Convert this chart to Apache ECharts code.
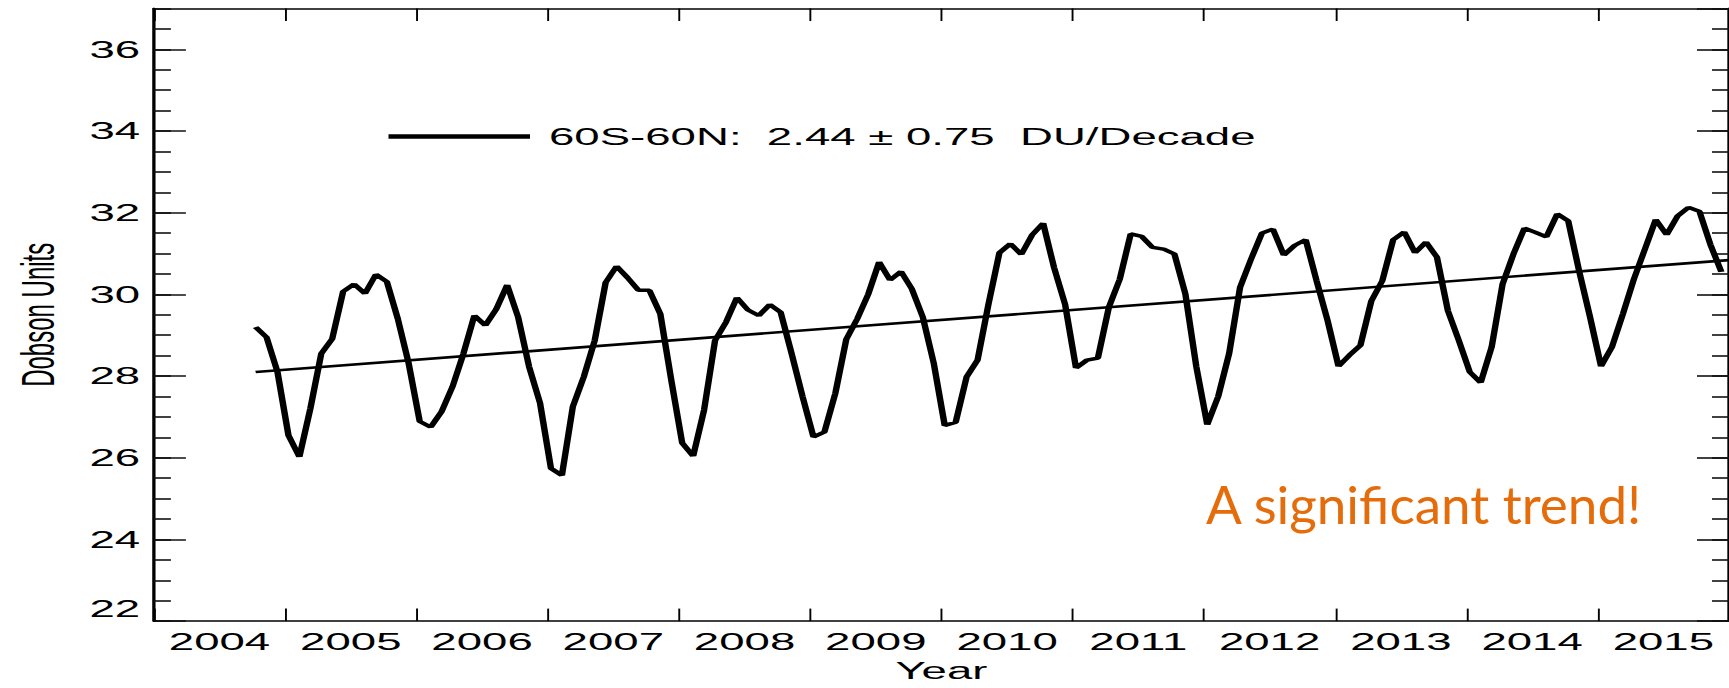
<!DOCTYPE html>
<html>
<head>
<meta charset="utf-8">
<script src="https://cdn.jsdelivr.net/npm/echarts@6/dist/echarts.min.js"></script>
<style>
  html, body { margin: 0; padding: 0; background: #fff; overflow: hidden; }
  #stage { position: relative; width: 1729px; height: 688px; overflow: hidden; }
  #chart { position: absolute; left: 0; top: 0; height: 688px; transform-origin: 0 0; }
</style>
</head>
<body>
<div id="stage"><div id="chart"></div></div>
<script>
// Monthly tropospheric column ozone, 60S-60N (Dobson Units), Oct 2004 - Dec 2015
const FIRST_YEAR = 2004;
const FIRST_MONTH = 10;
const du2004 = [29.20, 28.95, 28.10];
const du2005 = [26.55, 26.02, 27.20, 28.55, 28.91, 30.07, 30.25, 30.02, 30.49, 30.31, 29.40, 28.30];
const du2006 = [26.89, 26.75, 27.13, 27.74, 28.55, 29.48, 29.24, 29.64, 30.23, 29.44, 28.23, 27.34];
const du2007 = [25.74, 25.57, 27.25, 27.98, 28.87, 30.29, 30.69, 30.41, 30.10, 30.10, 29.52, 27.90];
const du2008 = [26.36, 26.04, 27.17, 28.87, 29.32, 29.92, 29.62, 29.48, 29.75, 29.56, 28.55, 27.50];
const du2009 = [26.51, 26.63, 27.58, 28.90, 29.40, 30.00, 30.79, 30.35, 30.56, 30.13, 29.44, 28.31];
const du2010 = [26.79, 26.87, 27.98, 28.39, 29.76, 31.02, 31.24, 30.98, 31.46, 31.74, 30.65, 29.76];
const du2011 = [28.20, 28.39, 28.44, 29.68, 30.37, 31.48, 31.42, 31.15, 31.11, 30.99, 30.01, 28.23];
const du2012 = [26.81, 27.50, 28.55, 30.17, 30.86, 31.50, 31.60, 30.96, 31.20, 31.34, 30.33, 29.36];
const du2013 = [28.24, 28.51, 28.75, 29.84, 30.33, 31.34, 31.53, 31.02, 31.28, 30.91, 29.60, 28.87];
const du2014 = [28.10, 27.84, 28.71, 30.25, 30.99, 31.62, 31.52, 31.41, 31.97, 31.80, 30.57, 29.44];
const du2015 = [28.24, 28.71, 29.52, 30.37, 31.10, 31.83, 31.46, 31.92, 32.13, 32.03, 31.22, 30.55];

// Linear trend (DU per decade) and its uncertainty
const REGION = '60S-60N';
const TREND_PER_DECADE = 2.44;
const TREND_ERROR = 0.75;
const TREND_START_VALUE = 28.10;

// Axis labels
const yearLabels = ['2004', '2005', '2006', '2007', '2008', '2009', '2010', '2011', '2012', '2013', '2014', '2015'];
const X_MIN = 2004, X_MAX = 2016;
const Y_MIN = 22, Y_MAX = 37;

// The figure is drawn narrow and widened horizontally
const STRETCH = 1.9;
const PAGE_W = 1729, PAGE_H = 688;
const W = PAGE_W / STRETCH;

const monthly = [].concat(du2004, du2005, du2006, du2007, du2008, du2009,
                          du2010, du2011, du2012, du2013, du2014, du2015);
const t0 = FIRST_YEAR + (FIRST_MONTH - 1 + 0.3) / 12;
const series = monthly.map((v, k) => [t0 + k / 12, v]);
const trendLine = [
  [t0, TREND_START_VALUE],
  [X_MAX, TREND_START_VALUE + TREND_PER_DECADE / 10 * (X_MAX - t0)]
];
const legendName = `${REGION}:  ${TREND_PER_DECADE.toFixed(2)} \u00b1 ${TREND_ERROR.toFixed(2)}  DU/Decade`;

const chartEl = document.getElementById('chart');
chartEl.style.width = W + 'px';
chartEl.style.transform = `scaleX(${STRETCH})`;

const chart = echarts.init(chartEl, null, { renderer: 'svg', width: W, height: PAGE_H });

const FONT = 'Liberation Sans, Arial, Helvetica, sans-serif';
const INK = '#000';
const gridLeft = 146.6 / STRETCH;
const gridWidth = 1585.6 / STRETCH;
const majorLen = 32 / STRETCH;
const minorLen = 17 / STRETCH;

function yAxis(position, major, withLabels) {
  return {
    type: 'value',
    position: position,
    min: Y_MIN,
    max: Y_MAX,
    interval: major ? 2 : 0.5,
    axisLine: { show: true, lineStyle: { color: INK, width: 1.5 } },
    axisTick: { show: true, inside: true, length: major ? majorLen : minorLen,
                lineStyle: { color: '#111', width: 1.6 } },
    axisLabel: withLabels ? {
      show: true, margin: 7.2, fontSize: 24, fontFamily: FONT, color: INK,
      showMaxLabel: false, verticalAlignMinLabel: 'bottom',
      formatter: v => (v % 2 === 0 ? String(v) : '')
    } : { show: false },
    splitLine: { show: false },
    name: withLabels ? 'Dobson Units' : '',
    nameLocation: 'middle',
    nameRotate: 90,
    nameGap: 49,
    nameTextStyle: { fontSize: 24, fontFamily: FONT, color: INK }
  };
}

chart.setOption({
  animation: false,
  backgroundColor: '#fff',
  grid: { left: gridLeft, top: 8.5, width: gridWidth, height: 618, containLabel: false },
  legend: {
    data: [legendName],
    left: 379 / STRETCH,
    top: 119.5,
    icon: 'rect',
    itemWidth: 141.5 / STRETCH,
    itemHeight: 4.6,
    selectedMode: false,
    textStyle: { fontSize: 24, fontFamily: FONT, color: INK, padding: [0, 0, 0, 5] }
  },
  xAxis: [
    {
      type: 'category',
      position: 'bottom',
      data: yearLabels,
      boundaryGap: true,
      axisLine: { show: true, lineStyle: { color: INK, width: 1.5 } },
      axisTick: { show: true, inside: true, length: 12.5, interval: 0,
                  lineStyle: { color: INK, width: 1 } },
      axisLabel: { show: true, interval: 0, margin: 9, fontSize: 24, fontFamily: FONT, color: INK },
      splitLine: { show: false },
      name: 'Year',
      nameLocation: 'middle',
      nameGap: 37,
      nameTextStyle: { fontSize: 24, fontFamily: FONT, color: INK }
    },
    {
      type: 'category',
      position: 'top',
      data: yearLabels,
      boundaryGap: true,
      axisLine: { show: true, lineStyle: { color: INK, width: 1.5 } },
      axisTick: { show: true, inside: true, length: 12.5, interval: 0,
                  lineStyle: { color: INK, width: 1 } },
      axisLabel: { show: false },
      splitLine: { show: false }
    },
    {
      type: 'value',
      min: X_MIN,
      max: X_MAX,
      show: false,
      splitLine: { show: false }
    }
  ],
  yAxis: [
    yAxis('left', true, true),
    yAxis('left', false, false),
    yAxis('right', true, false),
    yAxis('right', false, false)
  ],
  series: [
    {
      name: legendName,
      type: 'line',
      xAxisIndex: 2,
      yAxisIndex: 0,
      data: series,
      symbol: 'none',
      showSymbol: false,
      lineStyle: { color: INK, width: 3.4 },
      itemStyle: { color: INK },
      z: 3
    },
    {
      name: 'trend',
      type: 'line',
      xAxisIndex: 2,
      yAxisIndex: 0,
      data: trendLine,
      symbol: 'none',
      showSymbol: false,
      silent: true,
      lineStyle: { color: INK, width: 2.6 },
      z: 2
    }
  ],
  graphic: [
    {
      type: 'text',
      x: 1206 / STRETCH,
      y: 503.5,
      scaleX: 1 / STRETCH,
      style: {
        text: 'A significant trend!',
        fill: '#E46C0A',
        fontSize: 53,
        fontFamily: 'Lato, Open Sans, sans-serif',
        align: 'left',
        verticalAlign: 'middle'
      }
    }
  ]
});
</script>
</body>
</html>
